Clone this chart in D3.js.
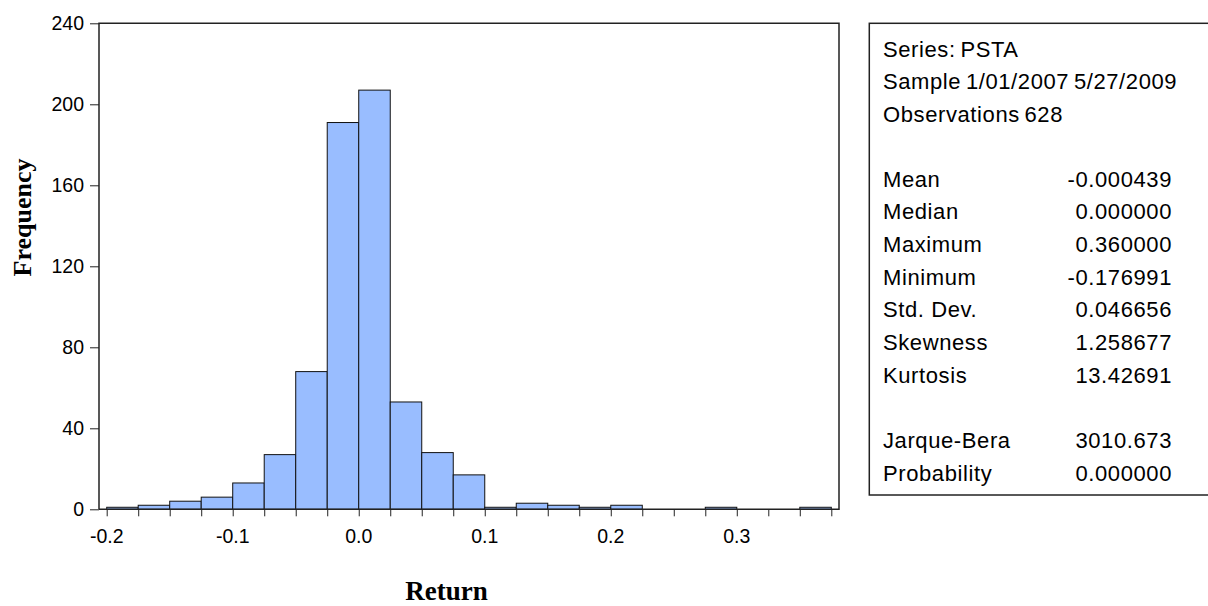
<!DOCTYPE html>
<html>
<head>
<meta charset="utf-8">
<script src="https://cdn.jsdelivr.net/npm/d3@7"></script>
<style>
    body { margin: 0; background: #fff; }
</style>
</head>
<body>
<div id="chart"></div>
<script>
// histogram bins (lower edge) and counts
const binStarts = [-0.2, -0.175, -0.15, -0.125, -0.1, -0.075, -0.05, -0.025, 0.0, 0.025, 0.05, 0.075,
                   0.1, 0.125, 0.15, 0.175, 0.2, 0.225, 0.25, 0.275, 0.3, 0.325, 0.35];
const counts = [1, 2, 4, 6, 13, 27, 68, 191, 207, 53, 28, 17,
                1, 3, 2, 1, 2, 0, 0, 1, 0, 0, 1];
const binWidth = 0.025;

const yTicks = [0, 40, 80, 120, 160, 200, 240];
const xMinorTicks = binStarts.concat([0.375]);
const xLabelTicks = [-0.2, -0.1, 0.0, 0.1, 0.2, 0.3];

const headerLines = ['Series: PSTA', 'Sample 1/01/2007 5/27/2009', 'Observations 628'];
const statNames = ['Mean', 'Median', 'Maximum', 'Minimum', 'Std. Dev.', 'Skewness', 'Kurtosis', '', 'Jarque-Bera', 'Probability'];
const statValues = ['-0.000439', '0.000000', '0.360000', '-0.176991', '0.046656', '1.258677', '13.42691', '', '3010.673', '0.000000'];

const W = 1208, H = 606;
const frame = {left: 99, right: 839, top: 23.3, bottom: 509.3};

const svg = d3.select('#chart')
                .append('svg')
                .attr('width', W)
                .attr('height', H);

const x = d3.scaleLinear().domain([-0.2, 0.375]).range([106.7, 831.3]);
const y = d3.scaleLinear().domain([0, 240]).range([frame.bottom, frame.top]);

const sans = 'Liberation Sans, Arial, sans-serif';
const serif = 'Liberation Serif, Times New Roman, serif';

// bars
const bins = binStarts.map((b, i) => ({x0: b, x1: b + binWidth, n: counts[i]}))
                      .filter(d => d.n > 0);

svg.append('g')
    .selectAll('rect')
    .data(bins)
    .enter()
    .append('rect')
    .attr('x', d => x(d.x0))
    .attr('width', d => x(d.x1) - x(d.x0))
    .attr('y', d => y(d.n))
    .attr('height', d => y(0) - y(d.n))
    .attr('fill', '#99bdff')
    .attr('stroke', '#111')
    .attr('stroke-width', 1);

// frame: left, top, right + baseline
svg.append('path')
    .attr('d', `M${frame.left},${frame.bottom}V${frame.top}H${frame.right}V${frame.bottom}H${frame.left}`)
    .attr('fill', 'none')
    .attr('stroke', '#222')
    .attr('stroke-width', 1.5);

// y axis
const yAxis = svg.append('g')
                .attr('transform', `translate(${frame.left},0)`)
                .call(d3.axisLeft(y).tickValues(yTicks).tickSize(9).tickPadding(6));
yAxis.select('.domain').remove();
yAxis.selectAll('text')
        .attr('font-family', sans)
        .attr('font-size', 19.5)
        .attr('fill', '#000');
yAxis.selectAll('line').attr('stroke', '#222');

// x axis: ticks at every bin edge, labels every 0.1
const xAxis = svg.append('g')
                .attr('transform', `translate(0,${frame.bottom})`)
                .call(d3.axisBottom(x).tickValues(xMinorTicks).tickSize(7).tickFormat(''));
xAxis.select('.domain').remove();
xAxis.selectAll('line').attr('stroke', '#222');

svg.append('g')
    .selectAll('text')
    .data(xLabelTicks)
    .enter()
    .append('text')
    .attr('x', d => x(d))
    .attr('y', 542.7)
    .attr('text-anchor', 'middle')
    .attr('font-family', sans)
    .attr('font-size', 19.5)
    .text(d => d.toFixed(1));

// axis titles
svg.append('text')
    .text('Return')
    .attr('x', 446.5)
    .attr('y', 600)
    .attr('text-anchor', 'middle')
    .attr('font-family', serif)
    .attr('font-weight', 'bold')
    .attr('font-size', 27);

svg.append('text')
    .text('Frequency')
    .attr('transform', 'translate(31,217.5) rotate(-90)')
    .attr('text-anchor', 'middle')
    .attr('font-family', serif)
    .attr('font-weight', 'bold')
    .attr('font-size', 26);

// stats box
svg.append('rect')
    .attr('x', 869.3)
    .attr('y', 23.3)
    .attr('width', 360)
    .attr('height', 495 - 23.3)
    .attr('fill', 'none')
    .attr('stroke', '#222')
    .attr('stroke-width', 1.5);

const lineGap = 32.65;
const statsGrp = svg.append('g')
                    .attr('font-family', sans)
                    .attr('font-size', 22)
                    .attr('letter-spacing', 0.6)
                    .attr('fill', '#000');

statsGrp.selectAll('.hdr')
    .data(headerLines)
    .enter()
    .append('text')
    .attr('class', 'hdr')
    .attr('x', 883)
    .attr('y', (_, i) => 56.7 + i * lineGap)
    .attr('word-spacing', -2)
    .text(d => d);

statsGrp.selectAll('.stat-name')
    .data(statNames)
    .enter()
    .append('text')
    .attr('class', 'stat-name')
    .attr('x', 883)
    .attr('y', (_, i) => 186.7 + i * lineGap)
    .text(d => d);

statsGrp.selectAll('.stat-val')
    .data(statValues)
    .enter()
    .append('text')
    .attr('class', 'stat-val')
    .attr('x', 1172)
    .attr('y', (_, i) => 186.7 + i * lineGap)
    .attr('text-anchor', 'end')
    .text(d => d);
</script>
</body>
</html>
